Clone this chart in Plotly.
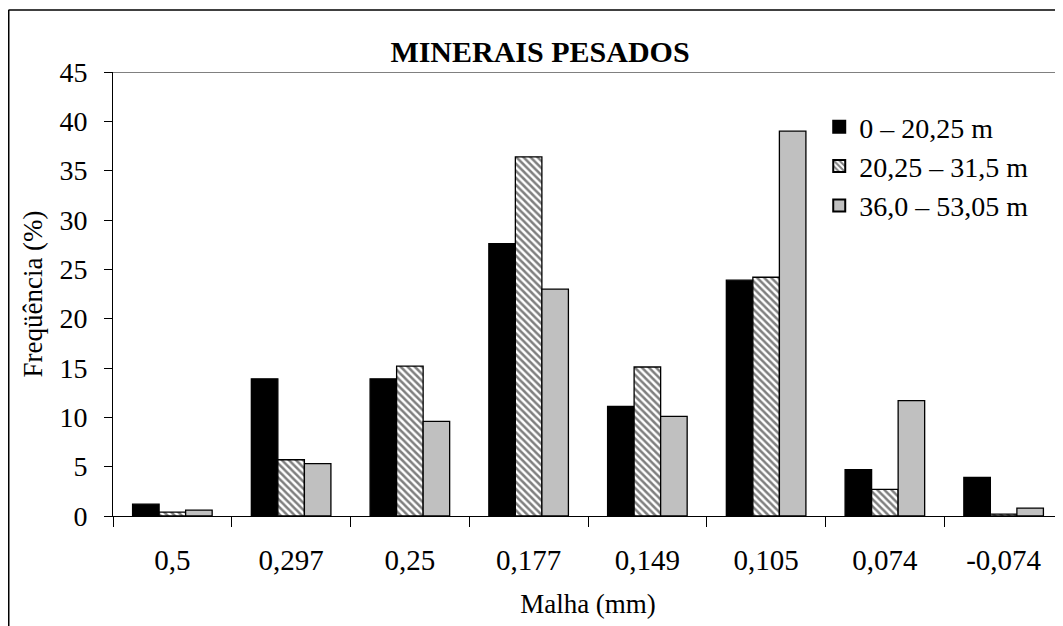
import plotly.graph_objects as go

categories = ["0,5", "0,297", "0,25", "0,177", "0,149", "0,105", "0,074", "-0,074"]
serie_0_20 = [1.2, 13.9, 13.9, 27.6, 11.1, 23.9, 4.7, 3.9]
serie_20_31 = [0.4, 5.7, 15.2, 36.4, 15.1, 24.2, 2.7, 0.2]
serie_36_53 = [0.6, 5.3, 9.6, 23.0, 10.1, 39.0, 11.7, 0.8]
names = ["0 – 20,25 m", "20,25 – 31,5 m", "36,0 – 53,05 m"]

FONT = "Liberation Serif, Times New Roman, serif"

W, H = 1055, 618  # page body has an 8px margin

fig = go.Figure()
fig.add_trace(go.Bar(x=categories, y=serie_0_20, name=names[0],
                     marker=dict(color="black", line=dict(color="black", width=1.3))))
fig.add_trace(go.Bar(x=categories, y=serie_20_31, name=names[1],
                     marker=dict(color="white", line=dict(color="black", width=1.3),
                                 pattern=dict(shape="\\", fgcolor="black", bgcolor="white",
                                              size=5, solidity=0.5))))
fig.add_trace(go.Bar(x=categories, y=serie_36_53, name=names[2],
                     marker=dict(color="#C0C0C0", line=dict(color="black", width=1.3))))

fig.update_layout(
    width=W, height=H,
    margin=dict(l=105, r=0, t=64, b=110, autoexpand=False),
    paper_bgcolor="white", plot_bgcolor="white",
    font=dict(family=FONT, size=27, color="black"),
    barmode="group", bargap=0.33, bargroupgap=0,
    showlegend=True,
    legend=dict(x=0.7434, y=0.9325, xanchor="left", yanchor="top",
                bgcolor="rgba(0,0,0,0)", font=dict(size=28, family=FONT),
                tracegroupgap=0, itemsizing="constant"),
    title=dict(text="<b>MINERAIS PESADOS</b>", x=532 / W, xref="container", xanchor="center",
               y=1 - 43 / H, yref="container", yanchor="middle",
               font=dict(size=30, family=FONT)),
    xaxis=dict(type="category", tickson="boundaries", ticks="outside", ticklen=10,
               tickcolor="black", showline=True, linecolor="black", linewidth=1,
               showgrid=False, tickfont=dict(size=29), ticklabelstandoff=18,
               automargin=False,
               title=dict(text="Malha (mm)", font=dict(size=27), standoff=19)),
    yaxis=dict(range=[0, 45], dtick=5, ticks="outside", ticklen=8, tickcolor="black",
               showline=True, linecolor="black", linewidth=1, showgrid=False,
               zeroline=False, tickfont=dict(size=28), ticklabelstandoff=11,
               automargin=False,
               title=dict(text="Freqüência (%)", font=dict(size=27), standoff=8)),
)

# top border line of plot area (at 45)
fig.add_shape(type="line", xref="paper", yref="y", x0=0, x1=1, y0=45, y1=45,
              line=dict(color="#808080", width=2))
# outer chart frame (top and left edges visible)
fx = (0.5 - 105) / 950
fy = (508 - 2) / 444
fig.add_shape(type="line", xref="paper", yref="paper", x0=fx, x1=1.05,
              y0=fy, y1=fy, line=dict(color="#404040", width=2))
fig.add_shape(type="line", xref="paper", yref="paper", x0=fx, x1=fx,
              y0=fy, y1=-0.3, line=dict(color="black", width=2))

fig.write_html("out.html")
